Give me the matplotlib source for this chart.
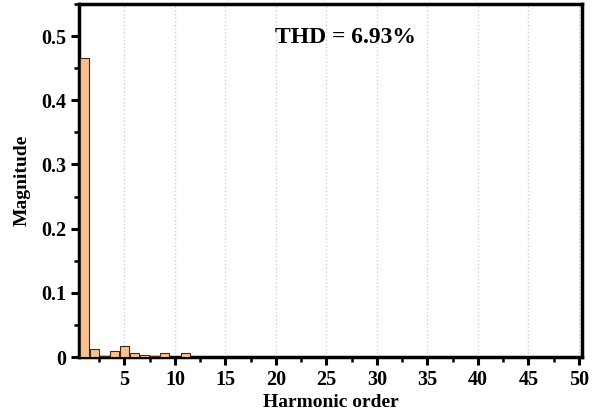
import numpy as np
import matplotlib
matplotlib.use("Agg")
import matplotlib.pyplot as plt
from matplotlib.ticker import MultipleLocator

plt.rcParams['font.family'] = ['Liberation Serif', 'DejaVu Serif']
plt.rcParams['font.weight'] = 'bold'

# harmonic spectrum (order 1..50)
orders = np.arange(1, 51)
magnitude = np.array([
    0.466, 0.0125, 0.002, 0.010, 0.017, 0.0065, 0.003, 0.001, 0.006, 0.0003,
    0.006, 0.0005, 0.0003, 0.0003, 0.0002, 0.0002, 0.0002, 0.0002, 0.0002, 0.0002,
    0.0002, 0.0002, 0.0002, 0.0002, 0.0002, 0.0002, 0.0002, 0.0002, 0.0002, 0.0002,
    0.0002, 0.0002, 0.0002, 0.0002, 0.0002, 0.0002, 0.0002, 0.0002, 0.0002, 0.0002,
    0.0002, 0.0002, 0.0002, 0.0002, 0.0002, 0.0002, 0.0002, 0.0002, 0.0002, 0.0002,
])
xticks = [5, 10, 15, 20, 25, 30, 35, 40, 45, 50]
yticks = [0, 0.1, 0.2, 0.3, 0.4, 0.5]
ytick_labels = ['0', '0.1', '0.2', '0.3', '0.4', '0.5']
thd_label = "THD = 6.93%"

fig = plt.figure(figsize=(5.97, 4.15), dpi=100)
ax = fig.add_axes([79 / 597, 1 - 357 / 415, (582 - 79) / 597, (357 - 4) / 415])

ax.bar(orders, magnitude, width=0.9, color='#F9C08F', edgecolor='#3a2a20', linewidth=0.8, zorder=3)

ax.set_xlim(0.5, 50.3)
ax.set_ylim(0, 0.55)
ax.set_xticks(xticks)
ax.set_yticks(yticks)
ax.set_yticklabels(ytick_labels)
ax.xaxis.set_minor_locator(MultipleLocator(2.5))
ax.yaxis.set_minor_locator(MultipleLocator(0.05))

ax.grid(axis='x', which='major', color='#d0d0d0', linestyle=':', linewidth=1, zorder=0)

for s in ax.spines.values():
    s.set_linewidth(2.5)
ax.tick_params(axis='both', which='major', direction='out', length=6, width=2.2,
               labelsize=14.5, pad=3)
ax.tick_params(axis='both', which='minor', direction='out', length=3.5, width=1.8)
for lab in ax.get_xticklabels() + ax.get_yticklabels():
    lab.set_fontweight('bold')

ax.set_xlabel("Harmonic order", fontsize=14, fontweight='bold', labelpad=3)
ax.set_ylabel("Magnitude", fontsize=14, fontweight='bold', labelpad=8)

ax.text(0.53, 0.905, thd_label, transform=ax.transAxes, ha='center', va='center',
        fontsize=17, fontweight='bold')

fig.savefig("out.png", dpi=100)
